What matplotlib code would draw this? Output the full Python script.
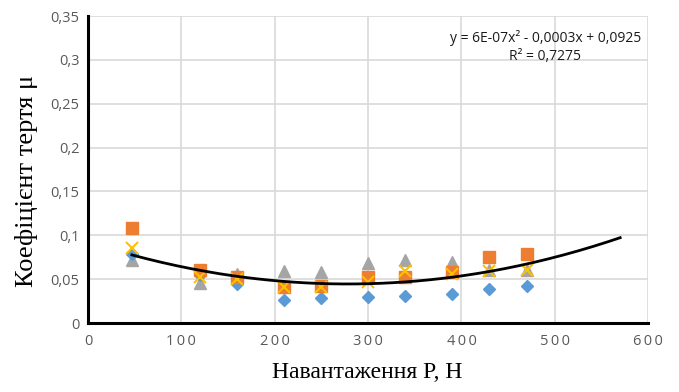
import numpy as np
import matplotlib
matplotlib.use("Agg")
import matplotlib.pyplot as plt

# навантаження, Н
load = [47, 120, 160, 210, 250, 300, 340, 390, 430, 470]

# коефіцієнт тертя для чотирьох серій
mu_blue = [0.079, 0.055, 0.044, 0.026, 0.028, 0.030, 0.031, 0.033, 0.039, 0.042]
mu_orange = [0.108, 0.061, 0.052, 0.041, 0.042, 0.053, 0.052, 0.058, 0.075, 0.079]
mu_gray = [0.072, 0.046, 0.056, 0.059, 0.058, 0.068, 0.072, 0.070, 0.061, 0.061]
mu_yellow = [0.085, 0.052, 0.050, 0.041, 0.041, 0.047, 0.059, 0.056, 0.059, 0.060]

# поліноміальна лінія тренду (2-й степінь), продовжена вперед на 100
trend_coef = [6.2e-7, -3.45e-4, 0.0925]
trend_range = (47, 570)
eq_text = "y = 6E-07x² - 0,0003x + 0,0925\nR² = 0,7275"

xticks = [0, 100, 200, 300, 400, 500, 600]
yticks = [0, 0.05, 0.1, 0.15, 0.2, 0.25, 0.3, 0.35]

SP = "\u2009"  # розрідження цифр на осі X


def comma(v):
    s = f"{v:g}"
    return s.replace(".", ",")


fig = plt.figure(figsize=(6.79, 3.92), dpi=100)
ax = fig.add_axes([0.1296, 0.176, 0.825, 0.783])

ax.plot(load, mu_gray, linestyle="none", marker="^", markersize=9,
        color="#A5A5A5", zorder=3)
ax.plot(load, mu_blue, linestyle="none", marker="D", markersize=6.5,
        color="#5B9BD5", zorder=4)
ax.plot(load, mu_orange, linestyle="none", marker="s", markersize=8.5,
        color="#ED7D31", zorder=5)
ax.plot(load, mu_yellow, linestyle="none", marker="x", markersize=8,
        markeredgewidth=1.5, color="#FFC000", zorder=6)

xs = np.linspace(trend_range[0], trend_range[1], 200)
ax.plot(xs, np.polyval(trend_coef, xs), color="black", lw=2, zorder=7)

ax.text(0.987, 0.955, eq_text, transform=ax.transAxes, ha="right", va="top",
        fontsize=10, family="Open Sans", color="#1a1a1a",
        multialignment="center", linespacing=1.3)

ax.set_xlim(0, 600)
ax.set_ylim(0, 0.35)
ax.set_xticks(xticks)
ax.set_yticks(yticks)
ax.set_xticklabels([SP.join(str(v)) for v in xticks],
                   family=["Open Sans", "DejaVu Sans"],
                   fontsize=10.5, color="#595959")
ax.set_yticklabels([comma(v) for v in yticks], family="Open Sans",
                   fontsize=10.5, color="#595959")
ax.tick_params(length=0, pad=8)
ax.tick_params(axis="y", pad=6)

ax.grid(True, color="#D9D9D9", lw=1.2)
ax.set_axisbelow(True)
for side in ("top", "right"):
    ax.spines[side].set_visible(False)
ax.spines["left"].set_linewidth(2.2)
ax.spines["bottom"].set_linewidth(2.2)

ax.set_xlabel("Навантаження P, H", family="Liberation Serif", fontsize=17)
ax.set_ylabel("Коефіцієнт тертя μ", family="Liberation Serif", fontsize=19)
ax.xaxis.set_label_coords(0.498, -0.128)
ax.yaxis.set_label_coords(-0.089, 0.462)

fig.savefig("out.png", dpi=100)
